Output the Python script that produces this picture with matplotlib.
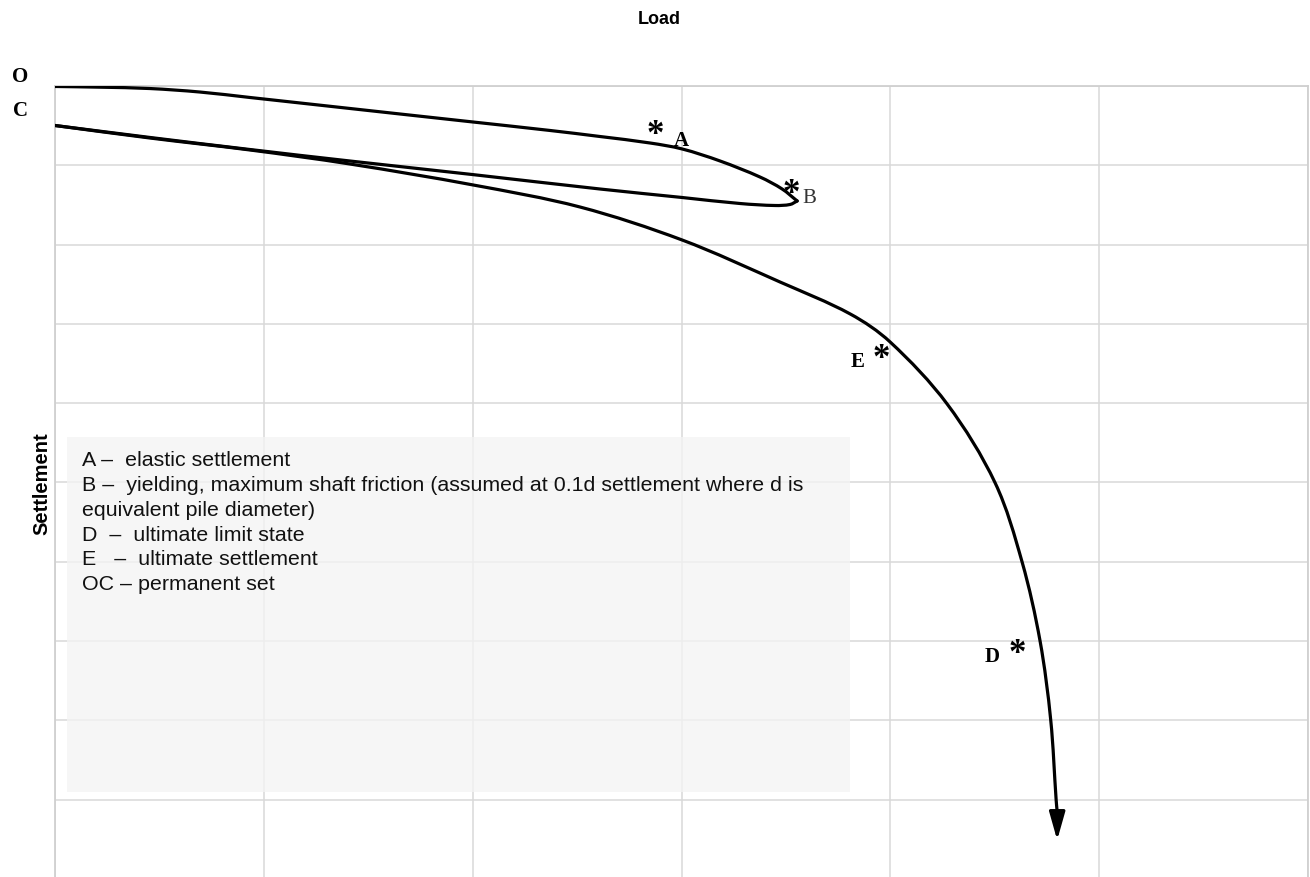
import numpy as np
import matplotlib
matplotlib.use('Agg')
import matplotlib.pyplot as plt
from matplotlib.patches import Rectangle, PathPatch
from matplotlib.path import Path

# Load-settlement sketch for a pile test (arbitrary units: 1 = one grid cell)

# first loading O -> B
load_up = [0.0, 0.216, 0.455, 0.694, 0.934, 1.173, 1.652, 2.002, 2.371, 2.610,
           2.850, 3.003, 3.185, 3.376, 3.482, 3.554]
settle_up = [0.006, 0.015, 0.032, 0.076, 0.145, 0.214, 0.353, 0.454, 0.561, 0.637,
             0.719, 0.794, 0.946, 1.148, 1.299, 1.450]

# unloading B -> C
load_down = [3.554, 3.520, 3.448, 3.281, 3.003, 2.610, 1.997, 1.413, 0.934, 0.455, 0.0]
settle_down = [1.450, 1.494, 1.507, 1.482, 1.406, 1.299, 1.116, 0.946, 0.801, 0.649, 0.498]

# reloading C -> E -> D (to failure)
load_re = [0.0, 0.455, 0.934, 1.413, 2.002, 2.514, 3.003, 3.472, 3.808,
           3.999, 4.272, 4.502, 4.631, 4.717, 4.768, 4.794, 4.799]
settle_re = [0.498, 0.656, 0.807, 0.984, 1.248, 1.526, 1.942, 2.472, 2.875,
             3.228, 4.010, 5.006, 6.003, 6.999, 7.995, 9.004, 9.155]
arrow_tip = (4.799, 9.51)

# point labels: (text, x, y, bold)
point_labels = [
    ("A", 2.998, 0.69, True),
    ("B", 3.611, 1.42, False),
    ("E", 3.841, 3.48, True),
    ("D", 4.487, 7.20, True),
]
star_pos = [(2.874, 0.52), (3.525, 1.27), (3.956, 3.35), (4.607, 7.07)]

legend_lines = [
    "A \u2013  elastic settlement",
    "B \u2013  yielding, maximum shaft friction (assumed at 0.1d settlement where d is",
    "equivalent pile diameter)",
    "D  \u2013  ultimate limit state",
    "E   \u2013  ultimate settlement",
    "OC \u2013 permanent set",
]


def smooth_path(ax, xs, ys):
    """Smoothed line (chord-weighted cubic Bezier through the points)."""
    p = np.column_stack([xs, ys]).astype(float)
    q = ax.transData.transform(p)  # chord lengths measured on screen
    n = len(p)
    verts = [p[0]]
    codes = [Path.MOVETO]
    for i in range(n - 1):
        i0 = max(i - 1, 0)
        i3 = min(i + 2, n - 1)
        d0 = np.linalg.norm(q[i] - q[i0])
        d1 = np.linalg.norm(q[i + 1] - q[i])
        d2 = np.linalg.norm(q[i3] - q[i + 1])
        c1 = p[i] + (p[i + 1] - p[i0]) * d1 / (3 * (d0 + d1))
        c2 = p[i + 1] - (p[i3] - p[i]) * d1 / (3 * (d1 + d2))
        verts += [c1, c2, p[i + 1]]
        codes += [Path.CURVE4] * 3
    return Path(verts, codes)


W, H = 1310, 877
fig = plt.figure(figsize=(W / 100, H / 100), dpi=100)
ax = fig.add_axes([55 / W, 0, (1308 - 55) / W, (H - 86) / H])

ax.set_xlim(0, 6)
ax.set_ylim(9.975, 0)
ax.set_xticks(np.arange(0, 7))
ax.set_yticks(np.arange(0, 10))
ax.tick_params(length=0, labelbottom=False, labelleft=False)
ax.set_axisbelow(True)
ax.grid(True, color='#d9d9d9', linewidth=1.1)
for side in ['left', 'top', 'right']:
    ax.spines[side].set_color('#d0d0d0')
    ax.spines[side].set_linewidth(1.3)
ax.spines['bottom'].set_visible(False)

# note box
ax.add_patch(Rectangle((0.057, 4.43), 3.75, 4.47, facecolor='#f4f4f4',
                       edgecolor='none', alpha=0.75, zorder=0.6))

lw = 2.3
for xs, ys in [(load_up, settle_up), (load_down, settle_down), (load_re, settle_re)]:
    ax.add_patch(PathPatch(smooth_path(ax, xs, ys), facecolor='none', edgecolor='black',
                           lw=lw, capstyle='round', joinstyle='round', zorder=3))
ax.annotate('', xy=arrow_tip, xytext=(load_re[-1], settle_re[-1]),
            arrowprops=dict(arrowstyle='-|>,head_length=0.85,head_width=0.24',
                            color='black', lw=lw, mutation_scale=20,
                            shrinkA=0, shrinkB=0))

for txt, x, y, bold in point_labels:
    ax.text(x, y, txt, fontsize=15, family='Liberation Serif',
            fontweight='bold' if bold else 'normal',
            color='black' if bold else '#333333', ha='center', va='center')
for x, y in star_pos:
    ax.text(x, y + 0.1, '*', fontsize=25, family='Liberation Serif',
            fontweight='bold', ha='center', va='center')

# legend text inside box
for i, line in enumerate(legend_lines):
    fig.text(82 / W, 1 - (461 + 24.7 * i) / H, line, fontsize=15.4,
             family='Liberation Sans', ha='left', va='center', color='#111111')

fig.text(20 / W, 1 - 77 / H, 'O', fontsize=15, family='Liberation Serif',
         fontweight='bold', ha='center', va='center')
fig.text(20 / W, 1 - 111 / H, 'C', fontsize=15, family='Liberation Serif',
         fontweight='bold', ha='center', va='center')
fig.text(659 / W, 1 - 20 / H, 'Load', fontsize=13, family='Liberation Sans',
         fontweight='bold', ha='center', va='center')
fig.text(42 / W, 1 - 484 / H, 'Settlement', fontsize=14.5, family='Liberation Sans',
         fontweight='bold', rotation=90, ha='center', va='center')

fig.savefig('out.png', dpi=100)
